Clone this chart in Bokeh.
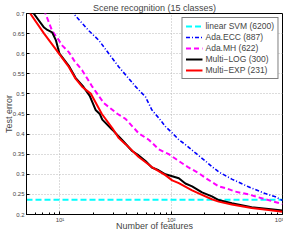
from bokeh.plotting import figure
from bokeh.models import Range1d, FixedTicker, Legend, LegendItem
from bokeh.embed import file_html
from bokeh.resources import INLINE

# ---- data ----
svm_x = [5, 1000]
svm_y = [0.237, 0.237]

ecc_x = [11, 13.4, 18.2, 22.4, 27.5, 33.8, 41.6, 47.8, 58.6, 67, 77.3, 88.5, 101.8, 117, 134, 165, 203, 230, 267, 350, 494, 700, 863, 1000]
ecc_y = [0.75, 0.698, 0.657, 0.633, 0.600, 0.567, 0.538, 0.518, 0.493, 0.46, 0.44, 0.419, 0.403, 0.386, 0.374, 0.353, 0.333, 0.32, 0.306, 0.288, 0.269, 0.252, 0.244, 0.235]

mh_x = [5.5, 7.4, 8.5, 9.8, 10.5, 12, 13.4, 15.8, 19.5, 24.8, 33, 38.8, 51, 62.8, 77.3, 95, 117, 143, 176, 203, 267, 306, 376, 494, 700, 1000]
mh_y = [0.76, 0.70, 0.657, 0.633, 0.62, 0.604, 0.583, 0.559, 0.518, 0.477, 0.45, 0.438, 0.402, 0.386, 0.362, 0.35, 0.333, 0.317, 0.303, 0.291, 0.27, 0.266, 0.257, 0.25, 0.238, 0.226]

log_x = [4, 5.8, 7.2, 7.7, 8.5, 9.2, 9.9, 12, 13.8, 16, 18.5, 20.9, 22.8, 24, 29.5, 36, 44.5, 51, 58.7, 67, 77, 88.5, 102, 117, 134, 154, 189, 232, 267, 350, 528, 749, 1000]
log_y = [0.75, 0.70, 0.665, 0.659, 0.653, 0.633, 0.60, 0.57, 0.54, 0.52, 0.495, 0.46, 0.45, 0.436, 0.411, 0.386, 0.358, 0.347, 0.333, 0.317, 0.31, 0.300, 0.295, 0.29, 0.277, 0.27, 0.255, 0.245, 0.236, 0.228, 0.218, 0.214, 0.21]

exp_x = [4, 5.4, 7.2, 9.8, 12, 13.8, 15.8, 19, 23.8, 29.5, 33.8, 38.8, 51, 67, 88.5, 102, 117, 154, 189, 232, 267, 350, 528, 749, 1000]
exp_y = [0.75, 0.70, 0.65, 0.60, 0.567, 0.538, 0.518, 0.50, 0.45, 0.415, 0.39, 0.375, 0.343, 0.318, 0.298, 0.285, 0.278, 0.26, 0.249, 0.238, 0.232, 0.225, 0.216, 0.211, 0.207]

labels = ["linear SVM (6200)", "Ada.ECC (887)", "Ada.MH (622)", "Multi\u2212LOG (300)", "Multi\u2212EXP (231)"]
title_text = "Scene recognition (15 classes)"
x_label = "Number of features"
y_label = "Test error"
x_ticks = [10, 100, 1000]
x_tick_labels = ["10\u00b9", "10\u00b2", "10\u00b3"]
y_ticks = [0.2, 0.25, 0.3, 0.35, 0.4, 0.45, 0.5, 0.55, 0.6, 0.65, 0.7]
y_tick_labels = ["0.2", "0.25", "0.3", "0.35", "0.4", "0.45", "0.5", "0.55", "0.6", "0.65", "0.7"]

FONT = "Liberation Sans"

p = figure(width=283, height=233, x_axis_type="log",
           x_range=Range1d(5, 1000), y_range=Range1d(0.2, 0.7),
           output_backend="svg", toolbar_location=None,
           min_border_left=22, min_border_right=1, min_border_top=0, min_border_bottom=18)

p.title.text = title_text
p.title.align = "center"
p.title.text_font = FONT
p.title.text_font_size = "9px"
p.title.text_font_style = "normal"
p.title.standoff = 1

p.outline_line_color = "black"
p.outline_line_width = 1
p.background_fill_color = "white"
p.border_fill_color = "white"

minor = [m * d for d in (1, 10, 100) for m in (5, 6, 7, 8, 9, 2, 3, 4) if 5 <= m * d <= 1000 and m * d not in x_ticks]
p.xaxis.ticker = FixedTicker(ticks=x_ticks, minor_ticks=sorted(minor))
p.xaxis.major_label_overrides = {t: l for t, l in zip(x_ticks, x_tick_labels)}
p.yaxis.ticker = FixedTicker(ticks=y_ticks)
p.yaxis.major_label_overrides = {t: l for t, l in zip(y_ticks, y_tick_labels)}

for ax in (p.xaxis, p.yaxis):
    ax.axis_line_color = "black"
    ax.major_tick_in = 3
    ax.major_tick_out = 0
    ax.minor_tick_in = 2
    ax.minor_tick_out = 0
    ax.major_label_text_font = FONT
    ax.major_label_text_font_size = "6px"
    ax.major_label_standoff = 2
    ax.axis_label_text_font = FONT
    ax.axis_label_text_font_size = "9px"
    ax.axis_label_text_font_style = "normal"
    ax.axis_label_standoff = -4
p.yaxis.minor_tick_in = 0
p.xaxis.major_label_standoff = 2
p.xaxis.axis_label_standoff = -5
p.xaxis.axis_label = x_label
p.yaxis.axis_label = y_label

p.grid.grid_line_color = "#b8b8b8"
p.grid.grid_line_dash = "1 2"
p.grid.grid_line_width = 1

r_svm = p.line(svm_x, svm_y, line_color="#00ffff", line_width=2, line_dash="6 3")
r_ecc = p.line(ecc_x, ecc_y, line_color="#0000ff", line_width=1.6, line_dash="4 2 1 2")
r_mh = p.line(mh_x, mh_y, line_color="#ff00ff", line_width=2, line_dash="5 3")
r_log = p.line(log_x, log_y, line_color="black", line_width=2)
r_exp = p.line(exp_x, exp_y, line_color="#ff0000", line_width=2)

legend = Legend(items=[LegendItem(label=l, renderers=[r]) for l, r in
                       zip(labels, [r_svm, r_ecc, r_mh, r_log, r_exp])],
                location="top_right")
legend.border_line_color = "black"
legend.border_line_width = 1
legend.background_fill_color = "white"
legend.background_fill_alpha = 1
legend.label_text_font = FONT
legend.label_text_font_size = "8.5px"
legend.glyph_width = 17
legend.glyph_height = 8
legend.label_height = 9
legend.label_standoff = 3
legend.spacing = 1
legend.padding = 3
legend.margin = 4
p.add_layout(legend)

open("out.html", "w").write(file_html(p, INLINE))
